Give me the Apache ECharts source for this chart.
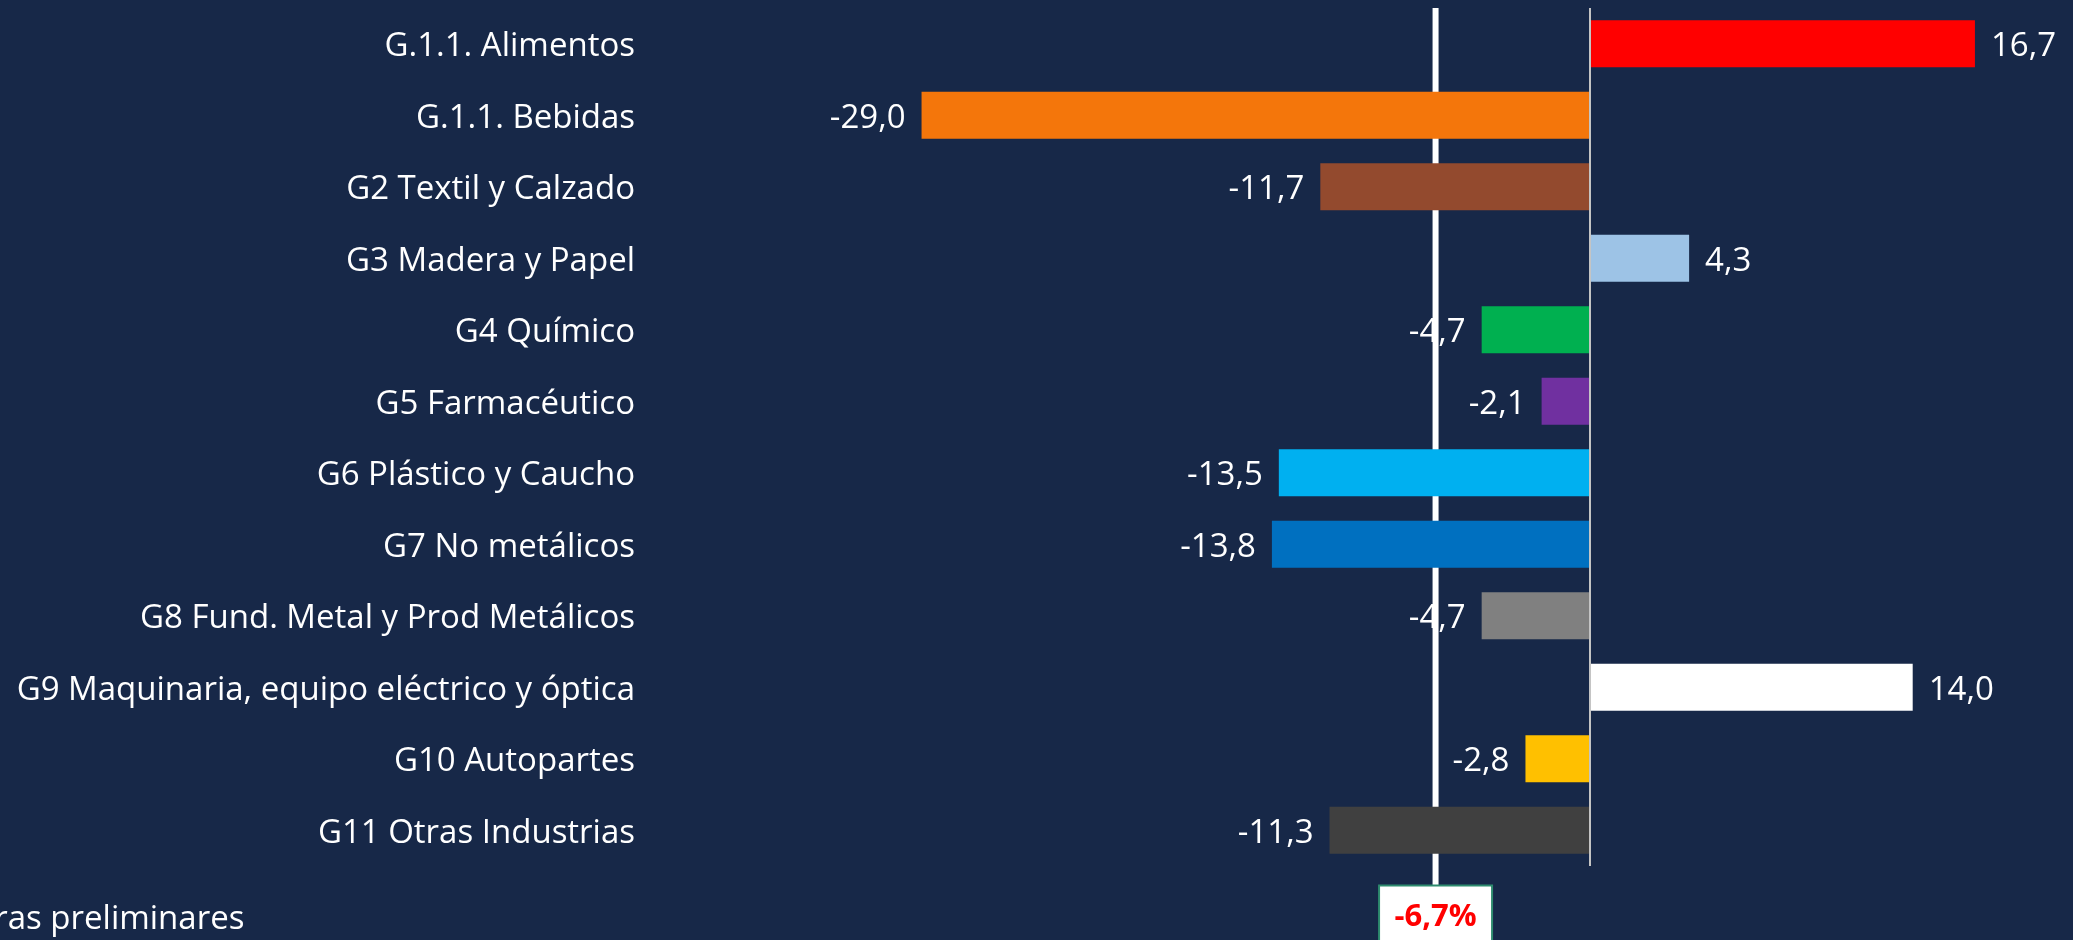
<!DOCTYPE html>
<html>
<head>
<meta charset="utf-8">
<script src="https://cdn.jsdelivr.net/npm/echarts@6/dist/echarts.min.js"></script>
<style>
  html, body { margin: 0; padding: 0; background: #172848; }
  #chart { width: 2073px; height: 940px; }
</style>
</head>
<body>
<div id="chart"></div>
<script>
// Industrial groups, annual variation (%)
const categories = [
  'G.1.1. Alimentos',
  'G.1.1. Bebidas',
  'G2 Textil y Calzado',
  'G3 Madera y Papel',
  'G4 Químico',
  'G5 Farmacéutico',
  'G6 Plástico y Caucho',
  'G7 No metálicos',
  'G8 Fund. Metal y Prod Metálicos',
  'G9 Maquinaria, equipo eléctrico y óptica',
  'G10 Autopartes',
  'G11 Otras Industrias'
];
const values = [16.7, -29.0, -11.7, 4.3, -4.7, -2.1, -13.5, -13.8, -4.7, 14.0, -2.8, -11.3];
const barColors = [
  '#FF0000', '#F4760B', '#934A2E', '#9DC3E6', '#00B050', '#7030A0',
  '#00B0F0', '#0070C0', '#808080', '#FFFFFF', '#FFC000', '#404040'
];
// Overall variation of the sector
const totalGrowth = -6.7;
const footnote = 'Cifras preliminares';

const FONT = '"Open Sans", "Noto Sans", sans-serif';
const fmt = v => v.toFixed(1).replace('.', ',');

const chart = echarts.init(document.getElementById('chart'), null, { renderer: 'canvas' });

const option = {
  backgroundColor: '#172848',
  animation: false,
  grid: { left: 668, right: 22, top: 8, bottom: 74, containLabel: false },
  xAxis: {
    type: 'value',
    min: -40,
    max: 20,
    show: false,
    splitLine: { show: false }
  },
  yAxis: {
    type: 'category',
    inverse: true,
    data: categories,
    axisLine: { show: false, onZero: false },
    axisTick: { show: false },
    splitLine: { show: false },
    axisLabel: {
      color: '#FFFFFF',
      fontFamily: FONT,
      fontSize: 33,
      margin: 33,
      formatter: v => '{c|' + v + '}',
      rich: {
        c: { color: '#FFFFFF', fontFamily: FONT, fontSize: 33, padding: [6, 0, 0, 0] }
      }
    }
  },
  series: [{
    type: 'bar',
    barWidth: 47,
    data: values.map((v, i) => ({
      value: v,
      itemStyle: { color: barColors[i] },
      label: { position: v >= 0 ? 'right' : 'left' }
    })),
    label: {
      show: true,
      distance: 16,
      offset: [0, 3],
      color: '#FFFFFF',
      fontFamily: FONT,
      fontSize: 33,
      formatter: p => fmt(p.value)
    },
    markLine: {
      silent: true,
      symbol: 'none',
      label: { show: false },
      lineStyle: { color: '#C4C4C4', width: 2, type: 'solid' },
      data: [{ xAxis: 0 }]
    },
    z: 3
  }]
};

chart.setOption(option);

// Marker line for the overall variation with its callout box
const gx = chart.convertToPixel({ xAxisIndex: 0 }, totalGrowth);
chart.setOption({
  graphic: [
    {
      type: 'line',
      z: 0,
      shape: { x1: gx, y1: 8, x2: gx, y2: 886 },
      style: { stroke: '#FFFFFF', lineWidth: 6 }
    },
    {
      type: 'rect',
      z: 10,
      shape: { x: gx - 56.5, y: 885.5, width: 113, height: 80 },
      style: { fill: '#FFFFFF', stroke: '#2E8B6E', lineWidth: 2 }
    },
    {
      type: 'text',
      z: 11,
      x: gx,
      y: 917,
      style: {
        text: fmt(totalGrowth) + '%',
        fill: '#FF0000',
        font: 'bold 31px ' + FONT,
        align: 'center',
        verticalAlign: 'middle'
      }
    },
    {
      type: 'text',
      z: 11,
      x: -46,
      y: 920,
      style: {
        text: footnote,
        fill: '#FFFFFF',
        font: '33px ' + FONT,
        align: 'left',
        verticalAlign: 'middle'
      }
    }
  ]
});
</script>
</body>
</html>
